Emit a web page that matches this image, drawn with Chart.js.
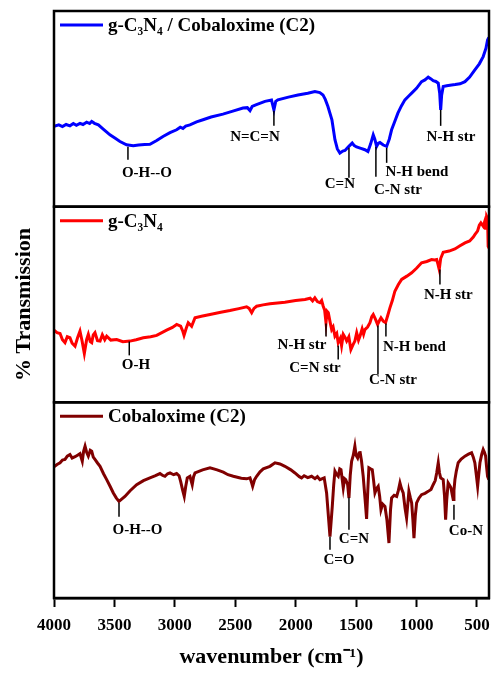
<!DOCTYPE html>
<html>
<head>
<meta charset="utf-8">
<title>FTIR spectra</title>
<script src="https://cdn.jsdelivr.net/npm/chart.js@4.4.1/dist/chart.umd.min.js"></script>
<style>
  html, body { margin: 0; padding: 0; background: #fff; }
</style>
</head>
<body>
<canvas id="ftirChart" width="491" height="673"></canvas>
<script>
// wavenumber (cm-1) and transmission (arbitrary units, 0-100 inside each panel)
const hybridWn = [4000, 3960, 3930, 3900, 3868, 3840, 3815, 3785, 3760, 3730, 3705, 3688, 3665, 3633, 3590, 3537, 3490, 3454, 3400, 3344, 3300, 3250, 3206, 3150, 3098, 3040, 2985, 2955, 2933, 2910, 2875, 2820, 2767, 2700, 2602, 2520, 2436, 2400, 2378, 2360, 2330, 2254, 2200, 2180, 2165, 2147, 2060, 1981, 1900, 1841, 1800, 1774, 1755, 1733, 1700, 1675, 1655, 1634, 1610, 1592, 1560, 1532, 1515, 1496, 1460, 1427, 1402, 1380, 1358, 1345, 1330, 1315, 1303, 1275, 1247, 1225, 1206, 1180, 1154, 1125, 1096, 1060, 1040, 1000, 958, 930, 903, 880, 862, 840, 820, 808, 800, 792, 779, 750, 709, 680, 640, 599, 560, 517, 480, 448, 425, 412, 401];
const hybridT = [41.0, 41.8, 40.9, 42.0, 41.3, 42.5, 41.6, 42.6, 42.0, 43.2, 42.5, 43.6, 42.6, 41.8, 39.5, 36.7, 34.8, 33.3, 31.6, 31.2, 31.5, 31.8, 31.9, 33.8, 35.9, 37.8, 39.3, 40.6, 40.0, 41.2, 41.8, 43.3, 44.4, 45.8, 47.3, 48.8, 50.4, 50.6, 49.1, 51.2, 52.0, 53.8, 54.5, 49.5, 53.8, 54.6, 56.0, 57.1, 58.0, 58.8, 58.3, 57.1, 54.8, 51.2, 44.4, 34.2, 29.5, 27.4, 28.4, 28.7, 30.8, 32.5, 31.2, 30.5, 29.8, 29.1, 28.2, 32.0, 36.7, 34.5, 30.8, 32.5, 32.8, 31.5, 30.8, 34.5, 39.3, 43.5, 47.8, 51.5, 54.6, 56.8, 58.0, 60.5, 63.9, 64.8, 66.2, 65.3, 64.4, 64.0, 63.1, 58.0, 49.5, 57.0, 61.4, 61.8, 62.2, 62.4, 62.8, 63.9, 66.2, 69.9, 73.0, 76.7, 81.0, 85.2, 86.5];

const gcnWn = [4000, 3975, 3950, 3930, 3909, 3890, 3868, 3850, 3826, 3805, 3785, 3768, 3749, 3730, 3716, 3700, 3688, 3675, 3661, 3640, 3619, 3600, 3580, 3564, 3530, 3481, 3430, 3371, 3320, 3261, 3200, 3150, 3068, 3020, 2985, 2952, 2935, 2924, 2905, 2889, 2861, 2833, 2780, 2709, 2620, 2544, 2470, 2406, 2385, 2364, 2345, 2323, 2270, 2213, 2150, 2089, 2000, 1923, 1880, 1860, 1841, 1820, 1799, 1785, 1772, 1760, 1749, 1740, 1730, 1715, 1702, 1690, 1675, 1660, 1648, 1630, 1620, 1606, 1590, 1578, 1560, 1543, 1525, 1510, 1495, 1480, 1468, 1450, 1438, 1427, 1405, 1385, 1370, 1358, 1340, 1322, 1305, 1294, 1275, 1256, 1240, 1220, 1200, 1179, 1150, 1123, 1080, 1040, 1000, 958, 915, 875, 850, 833, 822, 812, 800, 779, 730, 682, 640, 599, 560, 530, 517, 495, 480, 467, 448, 435, 428, 420, 412, 407, 401];
const gcnT = [36.9, 35.6, 35.2, 32.0, 30.5, 33.5, 33.0, 30.2, 28.7, 33.0, 36.4, 31.5, 25.0, 32.0, 34.7, 31.0, 30.5, 34.5, 35.6, 31.5, 31.3, 34.5, 32.0, 33.8, 31.8, 32.1, 31.0, 31.3, 32.0, 33.0, 33.5, 34.2, 36.9, 38.3, 39.8, 38.9, 36.5, 34.2, 38.0, 40.7, 38.9, 43.2, 44.0, 44.9, 46.0, 46.9, 47.9, 48.8, 48.0, 45.8, 48.0, 49.1, 49.8, 50.4, 50.8, 51.2, 52.0, 52.6, 53.2, 51.8, 53.4, 51.5, 50.9, 52.0, 49.1, 47.0, 40.7, 46.5, 45.8, 41.0, 37.2, 38.5, 33.8, 35.2, 30.5, 32.8, 29.0, 34.7, 33.0, 31.3, 33.5, 27.0, 29.5, 31.3, 35.5, 31.8, 33.8, 37.5, 34.8, 37.2, 38.5, 40.7, 43.8, 44.9, 42.5, 39.8, 42.0, 43.2, 41.5, 40.7, 44.0, 48.3, 52.0, 56.8, 60.2, 62.8, 64.5, 66.2, 68.5, 71.3, 72.0, 73.0, 72.8, 73.0, 70.5, 67.9, 73.5, 76.7, 77.3, 78.4, 80.0, 81.5, 82.5, 84.5, 85.7, 87.5, 90.5, 91.7, 90.0, 92.5, 88.3, 95.1, 94.0, 79.7, 79.0];

const cobWn = [4000, 3975, 3950, 3930, 3909, 3890, 3868, 3850, 3826, 3805, 3785, 3766, 3755, 3743, 3730, 3716, 3700, 3688, 3675, 3661, 3640, 3619, 3590, 3564, 3535, 3509, 3485, 3462, 3440, 3413, 3370, 3316, 3260, 3206, 3160, 3123, 3100, 3082, 3060, 3040, 3010, 2985, 2965, 2952, 2935, 2922, 2910, 2897, 2875, 2856, 2845, 2833, 2770, 2709, 2650, 2599, 2560, 2516, 2450, 2406, 2378, 2365, 2356, 2340, 2323, 2295, 2268, 2213, 2171, 2130, 2089, 2040, 2006, 1970, 1951, 1930, 1900, 1868, 1840, 1820, 1799, 1764, 1744, 1716, 1697, 1685, 1675, 1660, 1648, 1635, 1625, 1606, 1595, 1586, 1570, 1559, 1548, 1537, 1523, 1510, 1500, 1487, 1475, 1468, 1455, 1441, 1425, 1413, 1403, 1394, 1380, 1366, 1355, 1344, 1330, 1317, 1305, 1294, 1280, 1261, 1245, 1228, 1215, 1206, 1185, 1164, 1150, 1137, 1125, 1110, 1095, 1082, 1072, 1063, 1050, 1040, 1030, 1021, 1010, 999, 980, 958, 930, 903, 880, 862, 845, 833, 820, 810, 800, 790, 779, 768, 759, 750, 738, 725, 715, 705, 696, 690, 682, 670, 655, 630, 599, 570, 544, 530, 517, 505, 494, 485, 475, 460, 448, 438, 428, 420, 412, 401];
const cobT = [67.0, 68.2, 69.1, 70.5, 70.8, 72.5, 73.3, 71.5, 72.2, 73.0, 73.8, 69.9, 75.0, 77.6, 74.5, 72.5, 75.5, 75.0, 72.0, 70.8, 69.0, 67.3, 63.5, 60.5, 57.0, 53.7, 51.2, 49.4, 50.5, 51.9, 54.8, 57.9, 60.0, 61.4, 62.5, 63.6, 62.6, 62.2, 63.5, 63.9, 63.0, 63.6, 62.5, 59.6, 55.0, 51.9, 57.0, 61.4, 62.2, 57.9, 62.0, 63.9, 65.5, 66.5, 65.5, 64.3, 63.0, 62.2, 61.2, 60.9, 61.4, 59.0, 57.1, 60.5, 62.2, 64.5, 66.0, 67.3, 69.1, 68.5, 67.3, 65.5, 63.9, 62.0, 61.4, 62.5, 61.5, 62.2, 61.0, 62.0, 60.5, 61.4, 53.7, 31.4, 46.8, 58.0, 64.8, 63.0, 62.2, 66.0, 65.6, 56.3, 61.0, 60.5, 58.0, 51.1, 63.0, 69.9, 73.0, 77.6, 73.0, 71.6, 74.0, 75.0, 70.0, 62.2, 50.0, 40.4, 55.0, 66.5, 66.0, 65.6, 60.0, 53.7, 56.0, 57.1, 52.0, 45.1, 48.0, 46.8, 40.0, 28.1, 45.0, 51.1, 52.5, 51.9, 55.0, 58.8, 56.0, 53.7, 46.0, 40.9, 48.0, 54.5, 51.0, 48.6, 40.0, 30.6, 42.0, 48.6, 51.0, 52.8, 53.5, 54.5, 55.5, 57.9, 60.0, 63.9, 69.1, 64.0, 61.4, 61.0, 60.5, 52.0, 40.0, 50.0, 58.8, 57.5, 56.3, 53.0, 50.3, 55.0, 60.5, 65.0, 69.1, 71.0, 72.5, 73.5, 74.2, 72.0, 69.1, 63.0, 57.1, 63.0, 69.1, 73.5, 75.9, 74.5, 72.5, 67.0, 62.2, 60.5];

const xTicks = [4000, 3500, 3000, 2500, 2000, 1500, 1000, 500];

// band marks: text, line wavenumber, line from, line to, label wavenumber, label level
const hybridBands = [
    ['O-H--O', 3388, 30.6, 24.0, 3231, 17.3],
    ['N=C=N', 2180, 49.0, 41.3, 2337, 35.7],
    ['C=N', 1559, 30.1, 14.8, 1634, 11.7],
    ['C-N str', 1336, 30.6, 15.3, 1154, 8.2],
    ['N-H bend', 1247, 30.1, 22.4, 997, 17.9],
    ['N-H str', 800, 49.5, 41.3, 715, 35.7]
];
const gcnBands = [
    ['O-H', 3377, 31.1, 24.0, 3322, 18.9],
    ['N-H str', 1749, 40.3, 33.7, 1948, 29.1],
    ['C=N str', 1648, 29.1, 21.9, 1840, 17.3],
    ['C-N str', 1319, 39.3, 14.3, 1195, 11.2],
    ['N-H bend', 1253, 40.3, 33.7, 1017, 28.1],
    ['N-H str', 806, 67.9, 60.2, 736, 54.6]
];
const cobBands = [
    ['O-H--O', 3462, 48.7, 41.5, 3309, 34.9],
    ['C=O', 1716, 31.3, 24.6, 1642, 19.5],
    ['C=N', 1559, 51.3, 34.9, 1518, 30.3],
    ['Co-N', 690, 47.7, 40.0, 591, 34.4]
];

const serif = "'Liberation Serif', 'Times New Roman', serif";

function toPoints(wn, t) {
    return wn.map((w, i) => ({ x: w, y: t[i] }));
}

function panelScale(weight) {
    return {
        type: 'linear',
        position: 'left',
        stack: 'panels',
        stackWeight: 1,
        weight: weight,
        min: 0,
        max: 100,
        ticks: { display: false },
        grid: { display: false },
        border: { display: false },
        afterFit: s => { s.width = 54; }
    };
}

// black frame around each of the three panels
const panelFrames = {
    id: 'panelFrames',
    afterDraw(chart) {
        const { ctx, chartArea } = chart;
        ctx.save();
        ctx.strokeStyle = '#000';
        ctx.lineWidth = 2.5;
        ['y1', 'y2', 'y3'].forEach(id => {
            const s = chart.scales[id];
            ctx.strokeRect(chartArea.left, s.top, chartArea.right - chartArea.left, s.bottom - s.top);
        });
        ctx.restore();
    }
};

// one legend entry in the top left corner of each panel
const panelLegends = {
    id: 'panelLegends',
    afterDatasetsDraw(chart) {
        const { ctx, chartArea } = chart;
        ctx.save();
        chart.data.datasets.forEach(ds => {
            const s = chart.scales[ds.yAxisID];
            const y = s.top + 14;
            ctx.strokeStyle = ds.borderColor;
            ctx.lineWidth = 3;
            ctx.beginPath();
            ctx.moveTo(chartArea.left + 6, y);
            ctx.lineTo(chartArea.left + 49, y);
            ctx.stroke();
            ctx.fillStyle = '#000';
            ctx.font = 'bold 19px ' + serif;
            ctx.textBaseline = 'middle';
            ctx.textAlign = 'left';
            ctx.fillText(ds.label, chartArea.left + 54, y + 1);
        });
        ctx.restore();
    }
};

// short marker lines with band names
const bandMarks = {
    id: 'bandMarks',
    afterDatasetsDraw(chart) {
        const { ctx } = chart;
        const xs = chart.scales.x;
        const sets = [['y1', hybridBands], ['y2', gcnBands], ['y3', cobBands]];
        ctx.save();
        ctx.strokeStyle = '#000';
        ctx.fillStyle = '#000';
        ctx.lineWidth = 1.5;
        ctx.font = 'bold 15px ' + serif;
        ctx.textAlign = 'center';
        ctx.textBaseline = 'middle';
        sets.forEach(([id, bands]) => {
            const ys = chart.scales[id];
            bands.forEach(b => {
                const px = xs.getPixelForValue(b[1]);
                ctx.beginPath();
                ctx.moveTo(px, ys.getPixelForValue(b[2]));
                ctx.lineTo(px, ys.getPixelForValue(b[3]));
                ctx.stroke();
                ctx.fillText(b[0], xs.getPixelForValue(b[4]), ys.getPixelForValue(b[5]));
            });
        });
        ctx.restore();
    }
};

const ctx = document.getElementById('ftirChart').getContext('2d');

const chart = new Chart(ctx, {
    type: 'line',
    data: {
        datasets: [{
            label: 'g-C₃N₄ / Cobaloxime (C2)',
            data: toPoints(hybridWn, hybridT),
            yAxisID: 'y1',
            borderColor: '#0000ff',
            borderWidth: 3,
            pointRadius: 0,
            tension: 0,
            fill: false
        }, {
            label: 'g-C₃N₄',
            data: toPoints(gcnWn, gcnT),
            yAxisID: 'y2',
            borderColor: '#ff0000',
            borderWidth: 3,
            pointRadius: 0,
            tension: 0,
            fill: false
        }, {
            label: 'Cobaloxime (C2)',
            data: toPoints(cobWn, cobT),
            yAxisID: 'y3',
            borderColor: '#800000',
            borderWidth: 3,
            pointRadius: 0,
            tension: 0,
            fill: false
        }]
    },
    options: {
        responsive: false,
        animation: false,
        layout: {
            padding: { top: 11, right: 2, bottom: 0, left: 0 }
        },
        plugins: {
            legend: { display: false },
            tooltip: { enabled: false }
        },
        scales: {
            x: {
                type: 'linear',
                position: 'bottom',
                reverse: true,
                min: 400,
                max: 4000,
                afterBuildTicks: s => { s.ticks = xTicks.map(v => ({ value: v })); },
                afterFit: s => {
                    s.height = 75;
                    s.paddingLeft = 0;
                    s.paddingRight = 0;
                },
                ticks: {
                    color: '#000',
                    padding: 8,
                    maxRotation: 0,
                    autoSkip: false,
                    font: { family: serif, size: 17, weight: 'bold' },
                    callback: v => String(v)
                },
                grid: {
                    drawOnChartArea: false,
                    drawTicks: true,
                    tickLength: 9,
                    tickWidth: 2,
                    tickColor: '#000'
                },
                border: { display: true, color: '#000', width: 2.5 },
                title: {
                    display: true,
                    text: 'wavenumber (cm⁻¹)',
                    color: '#000',
                    font: { family: serif, size: 22, weight: 'bold' },
                    padding: { top: 0, bottom: 2 }
                }
            },
            y1: panelScale(3),
            y2: Object.assign(panelScale(2), {
                title: {
                    display: true,
                    text: '% Transmission',
                    color: '#000',
                    font: { family: serif, size: 22, weight: 'bold' },
                    padding: { top: 11, bottom: 0 }
                }
            }),
            y3: panelScale(1)
        }
    },
    plugins: [panelFrames, panelLegends, bandMarks]
});
</script>
</body>
</html>
